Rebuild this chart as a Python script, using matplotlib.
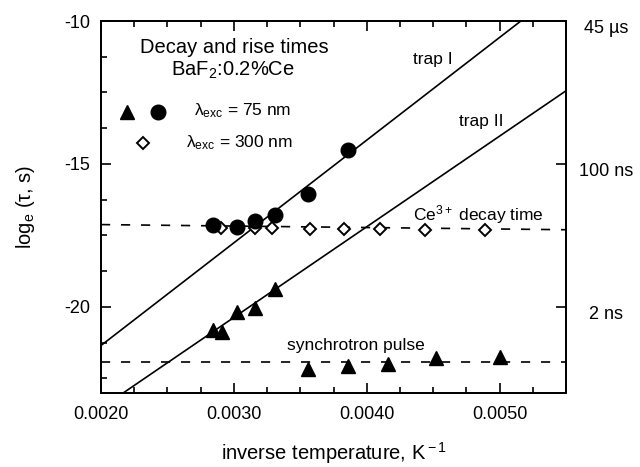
import matplotlib
matplotlib.use("Agg")
import matplotlib.pyplot as plt
import matplotlib.transforms as mtransforms
from matplotlib.ticker import MultipleLocator, FixedLocator

plt.rcParams["font.family"] = ["Liberation Sans", "DejaVu Sans"]
plt.rcParams["mathtext.fontset"] = "custom"
plt.rcParams["mathtext.rm"] = "Liberation Sans"
plt.rcParams["mathtext.it"] = "Liberation Sans:italic"

# circles: lambda_exc = 75 nm, trap I rise times
circ_x = [0.00284, 0.00302, 0.00316, 0.00331, 0.00356, 0.00386]
circ_y = [-17.15, -17.20, -17.00, -16.80, -16.04, -14.52]

# open diamonds: lambda_exc = 300 nm, Ce3+ decay
dia_x = [0.00290, 0.00316, 0.00329, 0.00357, 0.00383, 0.00410, 0.00444, 0.00489]
dia_y = [-17.24, -17.23, -17.23, -17.27, -17.29, -17.28, -17.30, -17.32]

# triangles: lambda_exc = 75 nm, trap II
tri_x = [0.00284, 0.00291, 0.00302, 0.00316, 0.00331]
tri_y = [-20.82, -20.88, -20.18, -20.04, -19.39]

# triangles at the synchrotron pulse level
sync_x = [0.00356, 0.00386, 0.00416, 0.00452, 0.00500]
sync_y = [-22.17, -22.07, -21.99, -21.79, -21.76]

# fitted lines (end points)
trap1_x = [0.0020, 0.00516]
trap1_y = [-21.35, -10.0]
trap2_x = [0.00217, 0.0055]
trap2_y = [-23.0, -12.44]
ce_x = [0.0020, 0.0055]
ce_y = [-17.12, -17.30]
pulse_x = [0.0020, 0.0055]
pulse_y = [-21.94, -21.94]

x_ticks = [0.0020, 0.0030, 0.0040, 0.0050]
y_ticks = [-10, -15, -20]
right_labels = ["45 \u00b5s", "100 ns", "2 ns"]

fig = plt.figure(figsize=(6.4, 4.67), dpi=100)
ax = fig.add_axes([0.1578, 0.1591, 0.7266, 0.7959])

ax.plot(trap1_x, trap1_y, color="black", lw=1.2)
ax.plot(trap2_x, trap2_y, color="black", lw=1.2)
ax.plot(ce_x, ce_y, color="black", lw=1.2, dashes=(5.5, 6.5))
ax.plot(pulse_x, pulse_y, color="black", lw=1.2, dashes=(5.5, 6.5))

ax.plot(dia_x, dia_y, "D", ms=6.3, mfc="white", mec="black", mew=1.4, ls="none")
ax.plot(circ_x, circ_y, "o", ms=10.5, color="black", ls="none")
ax.plot(tri_x, tri_y, "^", ms=10.5, color="black", ls="none")
ax.plot(sync_x, sync_y, "^", ms=10.5, color="black", ls="none")

ax.set_xlim(0.0020, 0.0055)
ax.set_ylim(-23, -10)
ax.xaxis.set_major_locator(FixedLocator(x_ticks))
ax.xaxis.set_minor_locator(MultipleLocator(0.00025))
ax.set_xticklabels([f"{v:.4f}" for v in x_ticks])
ax.yaxis.set_major_locator(FixedLocator(y_ticks))
ax.yaxis.set_minor_locator(MultipleLocator(1.25))
ax.set_yticklabels([str(v) for v in y_ticks])

ax.tick_params(which="both", direction="in", top=True, right=False,
               width=1.2, labelsize=13)
ax.tick_params(which="major", length=7.2)
ax.tick_params(which="minor", length=4.3)
ax.tick_params(axis="x", pad=9.5)
ax.tick_params(axis="y", pad=8)
for s in ax.spines.values():
    s.set_linewidth(1.3)

ax2 = ax.twinx()
ax2.set_ylim(-23, -10)
ax2.yaxis.set_major_locator(FixedLocator(y_ticks))
ax2.yaxis.set_minor_locator(FixedLocator([]))
ax2.set_yticklabels(right_labels)
ax2.tick_params(direction="in", length=7.2, width=1.2, labelsize=13, pad=29)
offset = mtransforms.ScaledTranslation(0, -4 / 72, fig.dpi_scale_trans)
for lbl in ax2.get_yticklabels():
    lbl.set_ha("center")
    lbl.set_transform(lbl.get_transform() + offset)
for s in ax2.spines.values():
    s.set_linewidth(1.3)

ax.set_xlabel("inverse temperature, K$^{\\rm -1}$", fontsize=14.5)
ax.xaxis.set_label_coords(0.5, -0.127)
ax.set_ylabel("log$_{\\rm e}$ (\u03c4, s)", fontsize=14.5)
ax.yaxis.set_label_coords(-0.138, 0.5)

# header and legend-like annotations
ax.text(0.286, 0.913, "Decay and rise times", transform=ax.transAxes,
        ha="center", va="baseline", fontsize=14.5)
ax.text(0.2835, 0.852, "BaF$_2$:0.2%Ce", transform=ax.transAxes,
        ha="center", va="baseline", fontsize=14.5)

ax.plot([0.0553], [0.756], "^", ms=10.5, color="black", transform=ax.transAxes)
ax.plot([0.1232], [0.756], "o", ms=10.5, color="black", transform=ax.transAxes)
ax.plot([0.091], [0.6726], "D", ms=6.3, mfc="white", mec="black", mew=1.4,
        transform=ax.transAxes)
ax.text(0.2006, 0.747, "\u03bb$_{\\rm exc}$ = 75 nm", transform=ax.transAxes,
        ha="left", va="baseline", fontsize=12.5)
ax.text(0.1828, 0.660, "\u03bb$_{\\rm exc}$ = 300 nm", transform=ax.transAxes,
        ha="left", va="baseline", fontsize=12.5)

ax.text(0.6703, 0.8844, "trap I", transform=ax.transAxes,
        ha="left", va="baseline", fontsize=12.5)
ax.text(0.770, 0.7175, "trap II", transform=ax.transAxes,
        ha="left", va="baseline", fontsize=12.5)
ax.text(0.6703, 0.4646, "Ce$^{3+}$ decay time", transform=ax.transAxes,
        ha="left", va="baseline", fontsize=12.5)
ax.text(0.4006, 0.1149, "synchrotron pulse", transform=ax.transAxes,
        ha="left", va="baseline", fontsize=12.5)

fig.savefig("out.png", dpi=100)
